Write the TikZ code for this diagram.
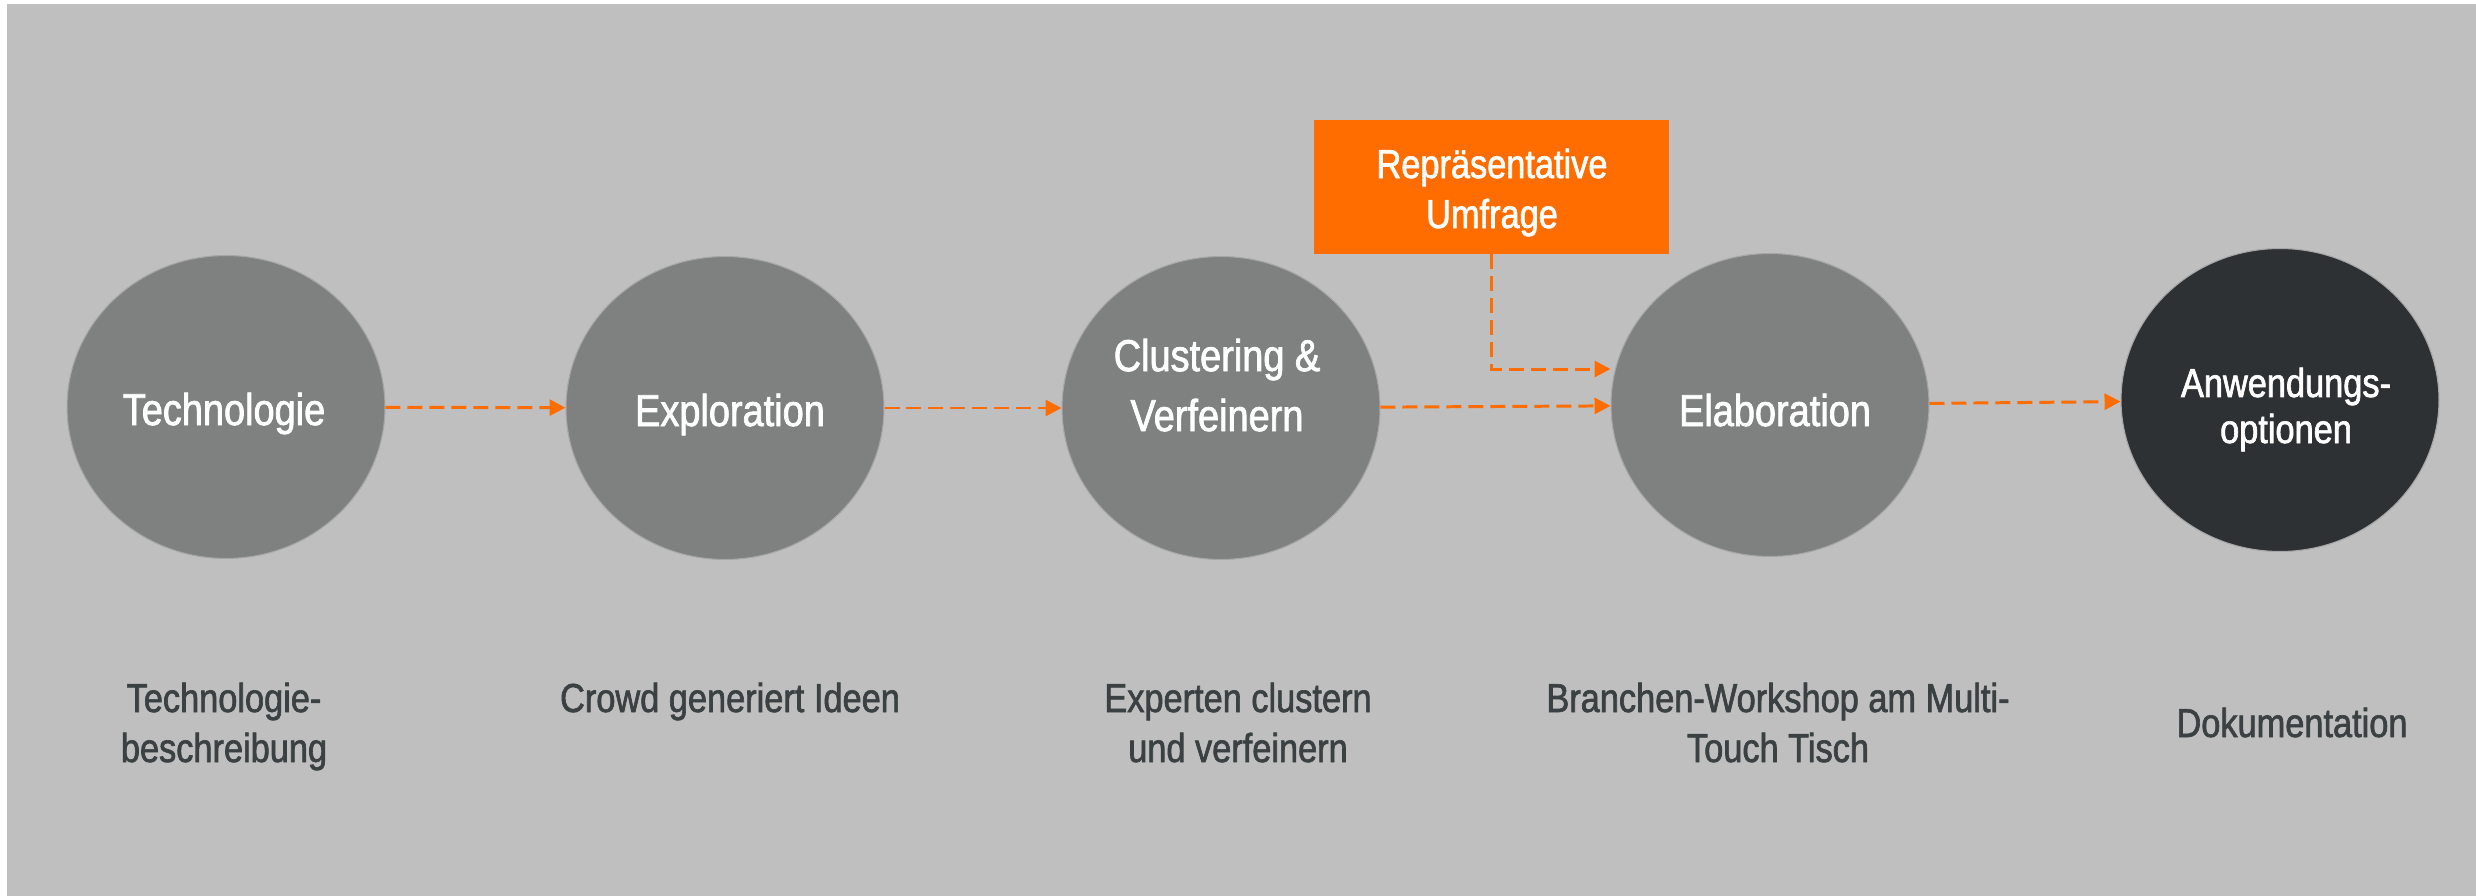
\documentclass[tikz,border=0pt]{standalone}
\usepackage{fontspec}
\setmainfont{Liberation Sans}[FakeStretch=0.85,FakeBold=1.6]
\usetikzlibrary{arrows.meta,shapes.geometric}
\definecolor{bg}{HTML}{BFBFBF}
\definecolor{discfill}{HTML}{7F8181}
\definecolor{discdark}{HTML}{2D3133}
\definecolor{rim}{HTML}{A6A6A6}
\definecolor{accent}{HTML}{FF6D00}
\definecolor{labelc}{HTML}{3B4143}
\begin{document}
\begin{tikzpicture}[x=0.02cm,y=-0.02cm,
  disc/.style={ellipse, fill=discfill, draw=rim, line width=0.6pt, minimum width=6.36cm, minimum height=6.06cm, inner sep=0pt},
  darkdisc/.style={disc, fill=discdark},
  disctext/.style={text=white, align=center, anchor=base, inner sep=0pt, font=\fontsize{25.4}{28.45}\selectfont},
  caption/.style={text=labelc, align=center, anchor=base, inner sep=0pt, font=\fontsize{23}{28.45}\selectfont},
  flow/.style={draw=accent, line width=1.7pt, dash pattern=on 0.3cm off 0.14cm, -{Triangle[length=0.32cm,width=0.32cm]}},
  surveybox/.style={fill=accent, minimum width=7.1cm, minimum height=2.68cm, inner sep=0pt}]
\fill[white] (0,0) rectangle (2476,896);
\useasboundingbox (0,0) rectangle (2476,896);
\fill[bg] (7,4) rectangle (2476,896);

\node[disc] (e1) at (226,407) {};
\node[disc] (e2) at (725,408) {};
\node[disc] (e3) at (1221,408) {};
\node[disc] (e4) at (1770,405) {};
\node[darkdisc] (e5) at (2280,400) {};

% multi-line nodes: base anchor sits on the last line's baseline
\node[disctext] (t1) at (224,425) {Technologie};
\node[disctext] (t2) at (730,426) {Exploration};
\node[disctext, font=\fontsize{25.4}{34.1}\selectfont] (t3) at (1217,431) {Clustering \&\\Verfeinern};
\node[disctext] (t4) at (1775,426) {Elaboration};
\node[disctext, font=\fontsize{23}{26.2}\selectfont] (t5) at (2286,443) {Anwendungs-\\optionen};

\node[surveybox] (survey) at (1491.5,187) {};
\node[disctext, font=\fontsize{23}{28.45}\selectfont] (st) at (1492,228) {Repräsentative\\Umfrage};

\node[caption] (c1) at (224,762) {Technologie-\\beschreibung};
\node[caption] (c2) at (730,712) {Crowd generiert Ideen};
\node[caption] (c3) at (1238,762) {Experten clustern\\und verfeinern};
\node[caption] (c4) at (1778,762) {Branchen-Workshop am Multi-\\Touch Tisch};
\node[caption] (c5) at (2292,737) {Dokumentation};

\draw[flow] (e1) -- (e2);
\draw[flow] (e2) -- (e3);
\draw[flow] (e3) -- (e4);
\draw[flow] (e4) -- (e5);
\draw[flow] (survey.south) |- ([yshift=0.72cm]e4.west);
\end{tikzpicture}
\end{document}
